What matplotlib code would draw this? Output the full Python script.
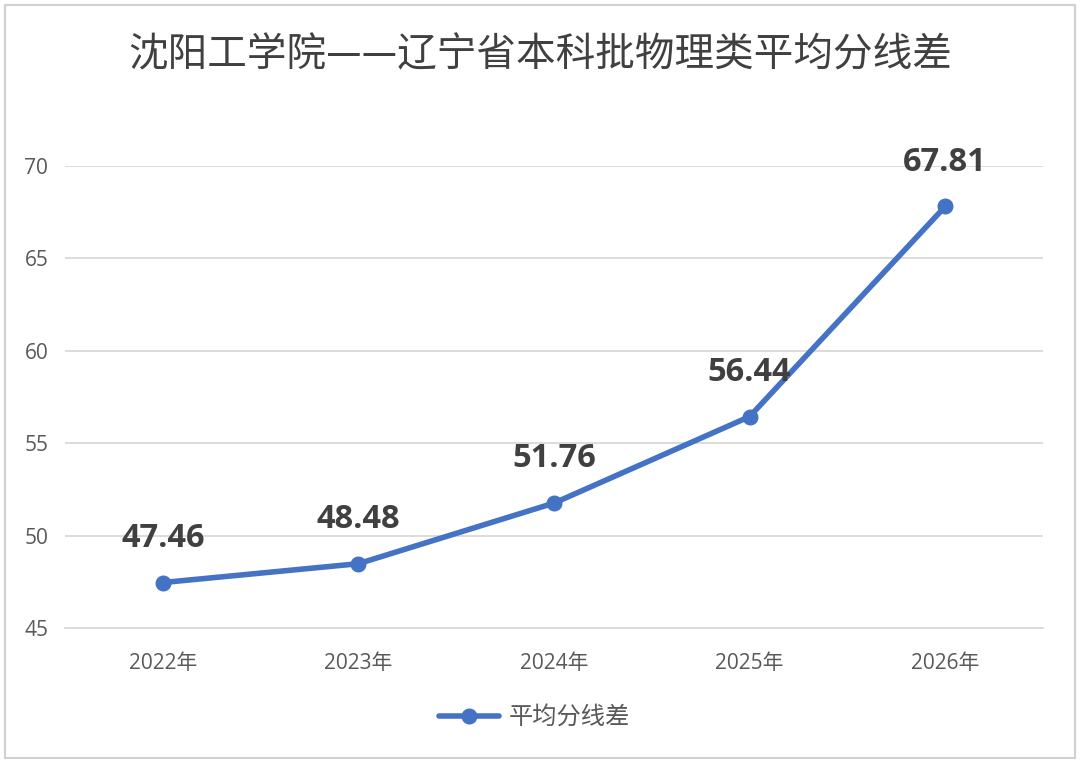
import matplotlib
matplotlib.use('Agg')
import matplotlib.pyplot as plt
from matplotlib.patches import Rectangle

plt.rcParams['font.family'] = ['Open Sans', 'Noto Sans CJK SC', 'DejaVu Sans']

# data
years = ['2022年', '2023年', '2024年', '2025年', '2026年']
diff = [47.46, 48.48, 51.76, 56.44, 67.81]
y_ticks = [45, 50, 55, 60, 65, 70]

title = '沈阳工学院——辽宁省本科批物理类平均分线差'
series_name = '平均分线差'

blue = '#4472C4'
grid_c = '#D9D9D9'
tick_c = '#595959'
label_c = '#404040'

fig = plt.figure(figsize=(10.8, 7.63), dpi=100)
ax = fig.add_axes([65/1080, 1 - 628/763, (1043 - 65)/1080, (628 - 166)/763])

x = range(len(years))
ax.plot(x, diff, color=blue, lw=4, marker='o', ms=10.5, label=series_name,
        solid_capstyle='round', zorder=3)

for xi, v in zip(x, diff):
    ax.annotate(f'{v:.2f}', (xi, v), xytext=(0, 32), textcoords='offset points',
                ha='center', va='center', fontsize=23.5, fontweight='bold',
                color=label_c, zorder=4)

ax.set_xlim(-0.5, len(years) - 0.5)
ax.set_ylim(45, 70)
ax.set_xticks(list(x))
ax.set_xticklabels(years)
ax.set_yticks(y_ticks)
ax.tick_params(axis='both', length=0, labelsize=15, colors=tick_c)
ax.tick_params(axis='x', pad=18)
ax.tick_params(axis='y', pad=12)
ax.yaxis.grid(True, color=grid_c, lw=1.3)
ax.set_axisbelow(True)
for s in ax.spines.values():
    s.set_visible(False)
ax.spines['bottom'].set_visible(True)
ax.spines['bottom'].set_color(grid_c)
ax.spines['bottom'].set_linewidth(1.3)

fig.text(0.5, 1 - 55/763, title, ha='center', va='center', fontsize=28.5,
         color=label_c, family=['Noto Sans CJK SC', 'DejaVu Sans'])

leg = fig.legend(loc='center', bbox_to_anchor=(0.495, 1 - 718/763), frameon=False,
                 handlelength=2.5, handletextpad=0.4,
                 prop={'family': ['Noto Sans CJK SC', 'DejaVu Sans'], 'size': 17.5})
for t in leg.get_texts():
    t.set_color(tick_c)

fig.patches.append(Rectangle((5/1080, 5/763), 1070/1080, 753/763, transform=fig.transFigure,
                             fill=False, edgecolor='#D0D0D0', lw=1.5))

fig.savefig('out.png', dpi=100, facecolor='white')
